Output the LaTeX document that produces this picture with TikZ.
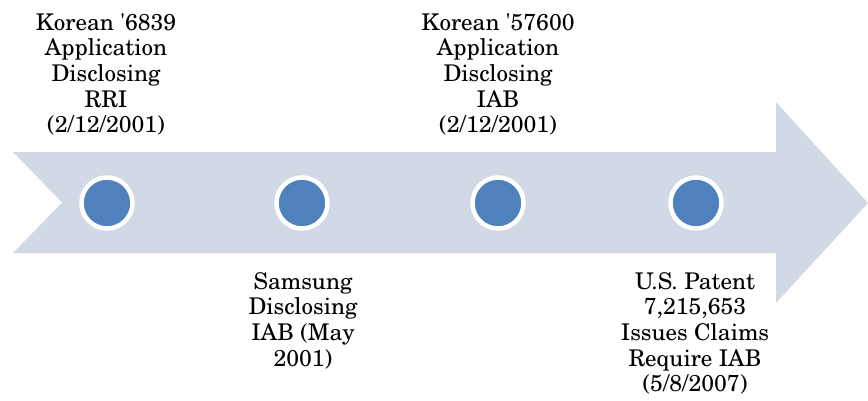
\documentclass[tikz,border=0pt]{standalone}
\usepackage[T1]{fontenc}
\usepackage{newcent}
\definecolor{arrowfill}{HTML}{D1D9E7}
\definecolor{dotfill}{HTML}{4F81BD}
\tikzset{
  bigarrow/.style={fill=arrowfill, draw=none},
  dot/.style={circle, fill=dotfill, draw=white, line width=4.5pt, minimum size=51pt, inner sep=0pt},
  label/.style={align=center, inner sep=0pt, font=\fontsize{23pt}{25.7pt}\selectfont, text=black},
}
\begin{document}
\begin{tikzpicture}[x=1pt,y=-1pt]
\useasboundingbox (0,0) rectangle (868,400);
\fill[bigarrow] (13,152) -- (776,152) -- (776,102) -- (868,203) -- (776,303) -- (776,253) -- (13,253) -- (62,202.5) -- cycle;
\node[dot] (d1) at (107,203) {};
\node[dot] (d2) at (302,203) {};
\node[dot] (d3) at (498,203) {};
\node[dot] (d4) at (696,203) {};
\node[label, anchor=north] (t1) at (106,13) {Korean \textquotesingle6839\\Application\\Disclosing\\RRI\\(2/12/2001)};
\node[label, anchor=north] (t3) at (498,13) {Korean \textquotesingle57600\\Application\\Disclosing\\IAB\\(2/12/2001)};
\node[label, anchor=north] (t2) at (303,272) {Samsung\\Disclosing\\IAB (May\\2001)};
\node[label, anchor=north] (t4) at (695,272) {U.S. Patent\\7,215,653\\Issues Claims\\Require IAB\\(5/8/2007)};
\end{tikzpicture}
\end{document}
